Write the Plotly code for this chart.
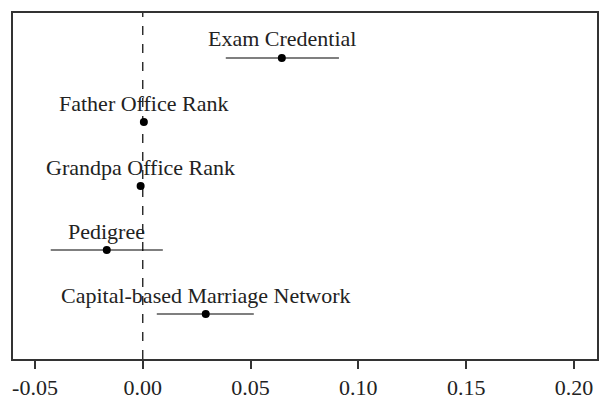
import plotly.graph_objects as go

labels = ["Exam Credential", "Father Office Rank", "Grandpa Office Rank",
          "Pedigree", "Capital-based Marriage Network"]
coef = [0.0645, 0.0005, -0.001, -0.0167, 0.0292]
ci_low = [0.0385, 0.0002, -0.0013, -0.0427, 0.0065]
ci_high = [0.091, 0.0008, -0.0007, 0.0093, 0.0515]
ypos = [5, 4, 3, 2, 1]
tick_vals = [-0.05, 0.00, 0.05, 0.10, 0.15, 0.20]
tick_text = ["-0.05", "0.00", "0.05", "0.10", "0.15", "0.20"]

font = "Liberation Serif"

fig = go.Figure()

# confidence intervals
for lo, hi, y in zip(ci_low, ci_high, ypos):
    fig.add_trace(go.Scatter(x=[lo, hi], y=[y, y], mode="lines",
                             line=dict(color="black", width=1.2),
                             showlegend=False, hoverinfo="skip"))

fig.add_trace(go.Scatter(x=coef, y=ypos, mode="markers",
                         marker=dict(color="black", size=8),
                         showlegend=False))

for lab, x, y in zip(labels, coef, ypos):
    fig.add_annotation(x=x, y=y, text=lab, showarrow=False,
                       yshift=19, font=dict(family=font, size=22, color="#222"))

fig.add_vline(x=0, line=dict(color="black", width=1.2, dash="dash"))

fig.update_xaxes(range=[-0.0602, 0.2107], tickvals=tick_vals, ticktext=tick_text,
                 showgrid=False, zeroline=False, showline=True, mirror=True,
                 linecolor="#333", linewidth=1.5, ticks="outside", ticklen=8,
                 tickcolor="#333", tickwidth=1.5, automargin=False,
                 tickfont=dict(family=font, size=22, color="#222"))
fig.update_yaxes(range=[0.297, 5.703], showticklabels=False, showgrid=False,
                 zeroline=False, showline=True, mirror=True, automargin=False,
                 linecolor="#333", linewidth=1.5)

# page adds ~8px body margin, so shift the plot area back
fig.update_layout(width=607, height=415, plot_bgcolor="white", paper_bgcolor="white",
                  margin=dict(l=5, r=18, t=5, b=64))

fig.write_html("out.html")
